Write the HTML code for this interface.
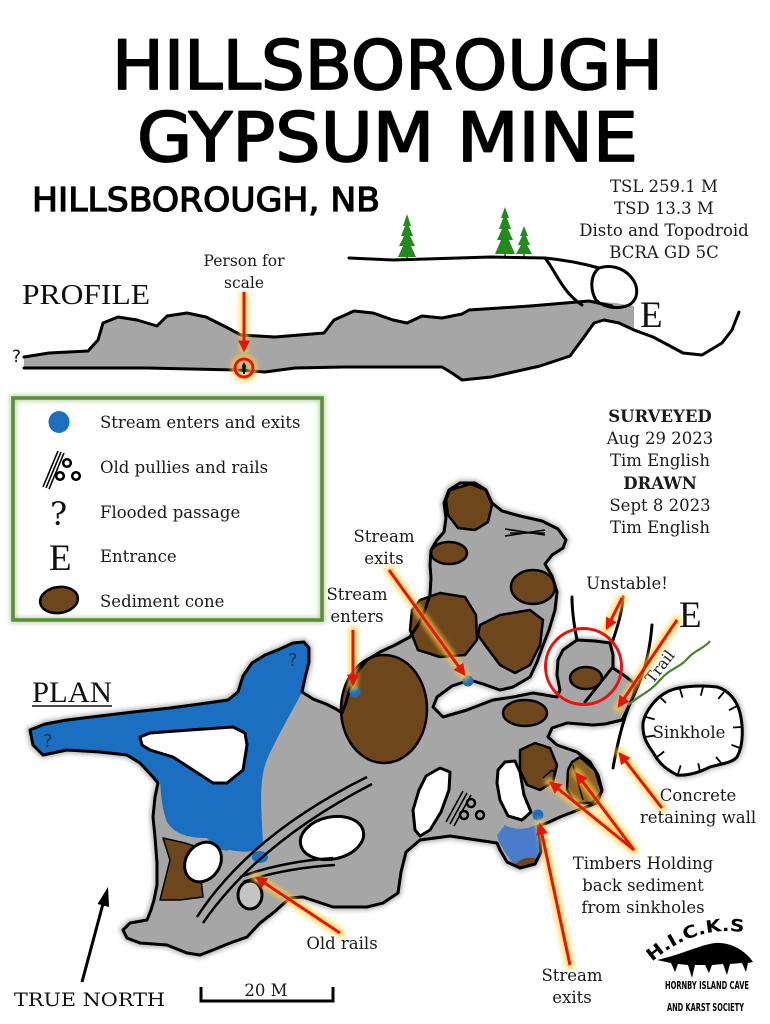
<!DOCTYPE html>
<html><head><meta charset="utf-8"><style>
html,body{margin:0;padding:0;background:#fff}
svg{display:block}
.s{font-family:"DejaVu Serif","Liberation Serif",serif;fill:#1a1a1a}
.h{font-family:"DejaVu Sans","Liberation Sans",sans-serif;fill:#000}
</style></head><body>
<svg width="770" height="1024" viewBox="0 0 770 1024" xmlns="http://www.w3.org/2000/svg">
<defs>
<filter id="glow" x="-50%" y="-50%" width="200%" height="200%"><feGaussianBlur stdDeviation="2.5"/></filter>
<filter id="sh" x="-10%" y="-10%" width="120%" height="120%"><feGaussianBlur stdDeviation="2"/></filter>
<marker id="ah" markerWidth="4" markerHeight="4" refX="3.2" refY="2" orient="auto" markerUnits="strokeWidth"><path d="M0,0 L4,2 L0,4 Z" fill="#e8140c"/></marker>
<path id="arc" d="M652,962 Q700,920 758,935"/>
</defs>
<rect width="770" height="1024" fill="#fff"/>

<!-- TITLE -->
<g stroke="#000" stroke-width="1.8" stroke-linejoin="round">
<text class="h" x="112" y="89" font-size="68" textLength="551" lengthAdjust="spacingAndGlyphs">HILLSBOROUGH</text>
<text class="h" x="137" y="161" font-size="68" textLength="501" lengthAdjust="spacingAndGlyphs">GYPSUM MINE</text>
</g>
<text class="h" x="32" y="211" font-size="33" textLength="348" lengthAdjust="spacingAndGlyphs" stroke="#000" stroke-width="1.2">HILLSBOROUGH, NB</text>

<!-- info text -->
<g class="s" font-size="16.5" text-anchor="middle">
<text x="664" y="192">TSL 259.1 M</text>
<text x="664" y="214">TSD 13.3 M</text>
<text x="664" y="236">Disto and Topodroid</text>
<text x="664" y="258">BCRA GD 5C</text>
<text x="660" y="422" font-weight="bold">SURVEYED</text>
<text x="660" y="444">Aug 29 2023</text>
<text x="660" y="466">Tim English</text>
<text x="660" y="489" font-weight="bold">DRAWN</text>
<text x="660" y="511">Sept 8 2023</text>
<text x="660" y="533">Tim English</text>
</g>

<!-- PROFILE -->
<text x="22" y="304" font-family="Liberation Serif,serif" font-size="29" textLength="128" lengthAdjust="spacingAndGlyphs" fill="#111">PROFILE</text>
<text x="12" y="362" font-family="DejaVu Sans,sans-serif" font-size="17" fill="#111">?</text>
<!-- trees -->
<g fill="#238a1e">
<polygon points="407,214 411,226 409,226 413,236 410,236 415,246 411,246 416,257 398,257 403,246 399,246 404,236 401,236 405,226 403,226"/>
<polygon points="505,207 509,218 507,218 511,229 508,229 513,240 509,240 515,254 495,254 501,240 497,240 502,229 499,229 503,218 501,218"/>
<polygon points="524,226 528,236 526,236 530,245 527,245 532,254 516,254 521,245 518,245 522,236 520,236"/>
</g>
<g stroke="#5a3a1a" stroke-width="1.5"><line x1="407" y1="257" x2="407" y2="261"/><line x1="505" y1="254" x2="505" y2="258"/><line x1="524" y1="254" x2="524" y2="257"/></g>
<!-- profile cave -->
<path d="M24,357 L49,353 L88,351 L98,340 L103,323 L118,317 L137,320 L157,326 L167,316 L187,313 L206,317 L226,327 L241,335 L275,337 L324,333 L334,320 L354,311 L373,313 L393,320 L407,323 L422,316 L442,318 L462,314 L469,310 L530,306 L589,301 L615,303 L634,306 L634,328 L619,322 L604,320 L594,323 L584,337 L570,356 L540,366 L491,377 L462,380 L452,373 L442,367 L344,367 L295,368 L265,372 L236,370 L147,368 L24,368 Z" fill="#a6a6a6"/>
<g fill="none" stroke="#000" stroke-width="3" stroke-linejoin="round" stroke-linecap="round">
<path d="M24,357 L49,353 L88,351 L98,340 L103,323 L118,317 L137,320 L157,326 L167,316 L187,313 L206,317 L226,327 L241,335 L275,337 L324,333 L334,320 L354,311 L373,313 L393,320 L407,323 L422,316 L442,318 L462,314 L469,310 L530,306 L589,301 L612,306"/>
<path d="M24,368 L147,368 L236,370 L265,372 L295,368 L344,367 L442,367 L452,373 L462,380 L491,377 L540,366 L570,356 L584,337 L594,323 L604,320 L619,323 L634,330 L653,337 L670,346 L683,353 L702,355 L722,343 L732,330 L739,312"/>
<path d="M349,258 L393,260 L491,257 L545,258 C555,270 562,292 582,305"/>
<path d="M545,258 C565,260 585,264 599,268 C608,265 622,266 631,277 C638,285 640,298 629,305 C620,309 605,309 596,300 C590,290 590,275 599,268"/>
</g>
<text x="640" y="327" font-family="Liberation Serif,serif" font-size="37" fill="#111">E</text>
<!-- person for scale -->
<text class="s" x="244" y="266" font-size="15.5" text-anchor="middle">Person for</text>
<text class="s" x="244" y="288" font-size="15.5" text-anchor="middle">scale</text>
<g filter="url(#glow)" stroke="#ffcf3a" stroke-width="9" fill="none" opacity="0.75">
<line x1="244" y1="292" x2="244" y2="352"/><circle cx="244" cy="368" r="9"/>
</g>
<line x1="244" y1="292" x2="244" y2="350" stroke="#e8140c" stroke-width="3" marker-end="url(#ah)"/>
<circle cx="244" cy="368" r="9" fill="none" stroke="#e8140c" stroke-width="3"/>
<path d="M244,362 L246,366 L245,374 L243,374 L242,366 Z" fill="#111"/>

<!-- LEGEND -->
<rect x="13" y="398" width="309" height="222" fill="none" stroke="#9cc080" stroke-width="7" filter="url(#sh)" opacity="0.6"/>
<rect x="13" y="398" width="309" height="222" fill="none" stroke="#5b8c3a" stroke-width="3.5"/>
<ellipse cx="59" cy="422" rx="10.5" ry="11" fill="#1a6fc0"/>
<g stroke="#000" stroke-width="1.6"><line x1="43" y1="487" x2="58" y2="451"/><line x1="46" y1="488" x2="61" y2="452"/><line x1="49" y1="489" x2="64" y2="453"/></g>
<g fill="none" stroke="#000" stroke-width="2.5"><circle cx="67" cy="463" r="3.8"/><circle cx="60" cy="476" r="3.8"/><circle cx="76" cy="476" r="3.8"/></g>
<text x="50" y="525" font-family="DejaVu Serif,serif" font-size="32" fill="#111">?</text>
<text x="49" y="570" font-family="Liberation Serif,serif" font-size="37" fill="#111">E</text>
<ellipse cx="59" cy="600" rx="19" ry="13" transform="rotate(-8 59 600)" fill="#6e461c" stroke="#000" stroke-width="2.5"/>
<g class="s" font-size="16.5">
<text x="100" y="428">Stream enters and exits</text>
<text x="100" y="473">Old pullies and rails</text>
<text x="100" y="518">Flooded passage</text>
<text x="100" y="562">Entrance</text>
<text x="100" y="607">Sediment cone</text>
</g>

<!-- PLAN -->
<text x="32" y="702" font-family="Liberation Serif,serif" font-size="30" textLength="80" lengthAdjust="spacingAndGlyphs" fill="#111">PLAN</text>
<line x1="32" y1="706" x2="112" y2="706" stroke="#111" stroke-width="1.5"/>

<!-- main cave -->
<path id="main" d="M30,730 L45,724 L67,720 L100,716 L133,712 L170,708 L200,704 L228,700 L238,692 L243,676 L252,663 L265,655 L280,649 L293,643 L304,642 L309,648 L309,662 L305,678 L302,692 L313,699 L326,704 L336,709 L342,713 L346,703 L350,688 L357,672 L367,660 L380,652 L395,645 L410,637 L418,625 L425,610 L430,595 L431,578 L430,565 L431,550 L437,540 L444,532 L446,518 L444,503 L449,490 L460,483 L475,483 L486,490 L492,503 L502,511 L520,516 L542,521 L558,529 L566,540 L563,548 L552,555 L545,564 L552,576 L557,592 L555,610 L549,630 L542,648 L537,662 L530,677 L513,687 L500,690 L483,684 L470,680 L452,686 L437,697 L433,707 L443,717 L467,710 L493,700 L513,697 L533,693 L557,697 L560,690 L557,675 L558,660 L563,650 L577,640 L595,641 L610,643 L613,655 L613,668 L625,676 L636,685 L633,697 L626,712 L622,720 L605,724 L593,725 L567,723 L552,728 L548,737 L557,745 L577,752 L590,762 L598,775 L602,790 L597,803 L578,810 L560,817 L547,823 L538,826 L540,840 L541,852 L535,864 L520,868 L507,862 L500,850 L497,843 L477,840 L450,836 L420,840 L406,852 L401,872 L398,893 L383,903 L367,907 L333,907 L303,897 L290,898 L273,913 L260,923 L247,937 L230,943 L213,950 L200,955 L187,953 L167,945 L140,943 L127,938 L123,930 L130,923 L147,920 L151,910 L154,900 L157,885 L157,863 L155,837 L153,817 L155,797 L158,783 L153,777 L140,763 L127,755 L100,752 L67,750 L43,755 L33,745 Z"/>
<use href="#main" fill="none" stroke="#888" stroke-width="7" filter="url(#sh)" opacity="0.6"/>
<use href="#main" fill="#a6a6a6"/>
<!-- blue flooded -->
<path d="M30,730 L45,724 L67,720 L100,716 L133,712 L170,708 L200,704 L228,700 L238,692 L243,676 L252,663 L265,655 L280,649 L293,643 L304,642 L309,648 L309,662 L305,678 L302,692 C292,712 275,740 266,762 C258,785 262,815 263,845 C255,854 240,852 230,850 C222,852 215,848 207,838 C190,838 175,835 167,822 C161,805 161,792 160,782 L153,777 L140,763 L127,755 L100,752 L67,750 L43,755 L33,745 Z" fill="#1a6fc0"/>
<ellipse cx="260" cy="857" rx="8" ry="6" fill="#1a6fc0"/>
<path d="M505,825 C512,830 528,830 535,825 C540,835 540,850 538,858 C533,866 520,867 513,864 C508,855 500,848 497,835 Z" fill="#4a7ccc"/>
<path d="M515,865 C520,857 533,856 539,860 C535,866 522,869 515,865 Z" fill="#6e461c"/>
<!-- sediments -->
<g fill="#6e461c" stroke="#000" stroke-width="2.5" stroke-linejoin="round">
<path d="M450,490 L470,484 L486,490 L492,505 L488,522 L475,530 L458,528 L448,515 L446,500 Z"/>
<ellipse cx="449" cy="553" rx="18" ry="11"/>
<ellipse cx="533" cy="587" rx="22" ry="17"/>
<path d="M420,600 L440,593 L465,597 L476,615 L477,640 L465,655 L440,657 L418,650 L410,630 L412,610 Z"/>
<path d="M480,625 L500,615 L530,610 L543,620 L540,645 L530,665 L515,673 L500,665 L485,645 L478,635 Z"/>
<ellipse cx="384" cy="709" rx="43" ry="54"/>
<ellipse cx="586" cy="678" rx="16" ry="11"/>
<ellipse cx="525" cy="713" rx="22" ry="13"/>
<path d="M520,750 L535,743 L550,748 L557,765 L553,782 L540,790 L527,785 L520,770 Z"/>
<path d="M572,762 L580,757 L595,770 L602,792 L592,803 L575,803 L567,790 L568,770 Z" fill="#8a6224"/>
<path d="M163,838 L185,843 L200,848 L200,870 L203,897 L180,900 L160,900 L165,880 L170,860 Z" stroke-width="1.5"/>
</g>
<g stroke="#000" stroke-width="1.5" fill="none"><path d="M543,778 L552,770 L556,774"/><path d="M573,765 L583,800"/></g>
<!-- islands -->
<g fill="#fff" stroke="#000" stroke-width="3" stroke-linejoin="round">
<path d="M140,737 L150,733 L190,730 L233,727 L245,733 L247,745 L243,770 L227,783 L213,783 L193,770 L173,757 L150,750 L142,745 Z"/>
<ellipse cx="332" cy="838" rx="32" ry="21" transform="rotate(-12 332 838)"/>
<ellipse cx="203" cy="862" rx="17" ry="21" transform="rotate(35 203 862)"/>
<ellipse cx="250" cy="895" rx="12" ry="14" fill="#c4c4c4"/>
<path d="M415,830 L413,810 L419,790 L426,776 L440,768 L450,772 L449,790 L441,812 L430,830 L420,836 Z"/>
<path d="M498,770 L505,762 L515,761 L520,772 L524,795 L531,812 L522,820 L508,816 L500,800 L497,783 Z"/>
</g>
<use href="#main" fill="none" stroke="#000" stroke-width="3" stroke-linejoin="round"/>
<!-- chamber & walls -->
<g fill="none" stroke="#000" stroke-width="3" stroke-linecap="round">
<path d="M577,640 C574,625 572,610 572,597"/>
<path d="M613,640 C618,625 622,612 623,597"/>
<path d="M612,668 L585,702"/>
<path d="M652,625 C650,650 645,672 633,697 C624,715 618,740 613,768"/>
</g>
<!-- rails -->
<g fill="none" stroke="#000" stroke-width="2.5">
<path d="M197,917 Q250,835 367,777"/>
<path d="M203,923 Q258,843 372,784"/>
<path d="M240,877 Q280,862 333,858"/>
<path d="M243,882 Q285,868 335,865"/>
</g>
<!-- scratches -->
<g stroke="#000" stroke-width="1.6"><line x1="505" y1="529" x2="545" y2="535"/><line x1="505" y1="536" x2="545" y2="530"/><line x1="510" y1="533" x2="545" y2="533"/></g>
<!-- pulleys -->
<g stroke="#000" stroke-width="1.6"><line x1="446" y1="822" x2="463" y2="791"/><line x1="450" y1="824" x2="467" y2="793"/><line x1="454" y1="826" x2="471" y2="795"/></g>
<g fill="none" stroke="#000" stroke-width="2.5"><circle cx="471" cy="803" r="4"/><circle cx="464" cy="815" r="4"/><circle cx="480" cy="815" r="4"/></g>
<!-- stream dots -->
<g fill="#1a6fc0"><circle cx="355" cy="692" r="5.5"/><circle cx="468" cy="681" r="5.5"/><circle cx="538" cy="815" r="5.5"/></g>
<g font-family="DejaVu Sans,sans-serif" font-size="18" fill="#17365e"><text x="288" y="666">?</text><text x="43" y="747">?</text></g>

<!-- sinkhole -->
<path id="sk" d="M643,723 C645,712 655,698 667,692 C678,686 700,685 717,687 C728,690 737,700 740,713 C743,725 744,745 737,757 C732,763 720,764 710,767 C700,772 688,776 677,775 C668,770 660,765 654,754 C650,747 642,740 643,723 Z"/>
<use href="#sk" fill="none" stroke="#999" stroke-width="7" filter="url(#sh)" opacity="0.6"/>
<use href="#sk" fill="#fff" stroke="#000" stroke-width="3"/>
<g stroke="#000" stroke-width="1.8">
<line x1="660" y1="697" x2="666" y2="703"/><line x1="680" y1="689" x2="682.5" y2="697.6"/><line x1="703" y1="687" x2="700.8" y2="695.7"/><line x1="724" y1="692" x2="718.2" y2="698.9"/><line x1="737" y1="706" x2="729" y2="710.2"/><line x1="742" y1="727" x2="733" y2="727.5"/><line x1="740" y1="748" x2="731.5" y2="744.8"/><line x1="722" y1="764" x2="716" y2="757"/><line x1="700" y1="772" x2="698.3" y2="763.2"/><line x1="678" y1="774" x2="680.7" y2="765.4"/><line x1="657" y1="757" x2="664.2" y2="751.5"/><line x1="645" y1="737" x2="653.9" y2="735.7"/><line x1="646" y1="717" x2="654.6" y2="719.4"/>
</g>
<!-- trail -->
<path d="M628,705 C640,695 650,692 660,680 C670,668 680,668 688,658 C695,650 705,648 710,641" fill="none" stroke="#4f7f2f" stroke-width="2.2"/>
<text class="s" x="0" y="0" font-size="15.5" text-anchor="middle" transform="translate(664,670) rotate(-52)">Trail</text>
<text x="679" y="627" font-family="Liberation Serif,serif" font-size="37" fill="#111">E</text>

<!-- red arrows glow -->
<g filter="url(#glow)" stroke="#ffcf3a" stroke-width="9" fill="none" opacity="0.75" stroke-linecap="round">
<line x1="353" y1="630" x2="353" y2="686"/>
<line x1="389" y1="570" x2="465" y2="676"/>
<line x1="622" y1="598" x2="606" y2="630"/>
<line x1="677" y1="620" x2="618" y2="708"/>
<line x1="662" y1="808" x2="619" y2="752"/>
<line x1="634" y1="850" x2="549" y2="782"/>
<line x1="634" y1="850" x2="576" y2="772"/>
<line x1="570" y1="965" x2="540" y2="823"/>
<line x1="340" y1="933" x2="255" y2="877"/>
</g>
<g stroke="#e8140c" stroke-width="3" fill="none" marker-end="url(#ah)">
<line x1="353" y1="630" x2="353" y2="684"/>
<line x1="389" y1="570" x2="464" y2="674"/>
<line x1="622" y1="598" x2="607" y2="628"/>
<line x1="677" y1="620" x2="619" y2="706"/>
<line x1="662" y1="808" x2="620" y2="754"/>
<line x1="634" y1="850" x2="551" y2="783"/>
<line x1="634" y1="850" x2="577" y2="774"/>
<line x1="570" y1="965" x2="540" y2="825"/>
<line x1="340" y1="933" x2="257" y2="878"/>
</g>
<circle cx="583.5" cy="666.5" r="38" fill="none" stroke="#e8140c" stroke-width="3"/>

<!-- labels -->
<g class="s" font-size="16.5" text-anchor="middle">
<text x="384" y="542">Stream</text><text x="384" y="564">exits</text>
<text x="357" y="600">Stream</text><text x="357" y="622">enters</text>
<text x="627" y="589">Unstable!</text>
<text x="689" y="738">Sinkhole</text>
<text x="698" y="801">Concrete</text><text x="698" y="823">retaining wall</text>
<text x="643" y="869">Timbers Holding</text><text x="643" y="891">back sediment</text><text x="643" y="913">from sinkholes</text>
<text x="572" y="981">Stream</text><text x="572" y="1003">exits</text>
<text x="342" y="949">Old rails</text>
<text x="266" y="996">20 M</text>
</g>

<!-- north arrow -->
<line x1="82" y1="982" x2="104" y2="900" stroke="#000" stroke-width="3"/>
<polygon points="108,887 97.5,904 109.1,907" fill="#000"/>
<text x="14" y="1006" font-family="DejaVu Serif,serif" font-size="19" textLength="151" lengthAdjust="spacingAndGlyphs" fill="#111">TRUE NORTH</text>
<!-- scale bar -->
<path d="M201,987 L201,1001 L333,1001 L333,987" fill="none" stroke="#000" stroke-width="3"/>

<!-- HICKS logo -->
<text font-family="DejaVu Sans,sans-serif" font-size="17" font-weight="bold" fill="#000"><textPath href="#arc" textLength="100" lengthAdjust="spacingAndGlyphs">H.I.C.K.S</textPath></text>
<path d="M657,960 C680,955 700,945 715,943 C730,942 745,950 753,962 L748,963 L746,972 L742,963 L730,964 L727,975 L723,964 L712,965 L709,973 L705,965 L695,965 L692,978 L688,965 L678,964 L675,972 L671,963 Z" fill="#000"/>
<text x="665" y="989" font-family="DejaVu Sans,sans-serif" font-size="11" font-weight="bold" textLength="84" lengthAdjust="spacingAndGlyphs" fill="#000">HORNBY ISLAND CAVE</text>
<text x="667" y="1011" font-family="DejaVu Sans,sans-serif" font-size="11" font-weight="bold" textLength="77" lengthAdjust="spacingAndGlyphs" fill="#000">AND KARST SOCIETY</text>
</svg>
</body></html>
